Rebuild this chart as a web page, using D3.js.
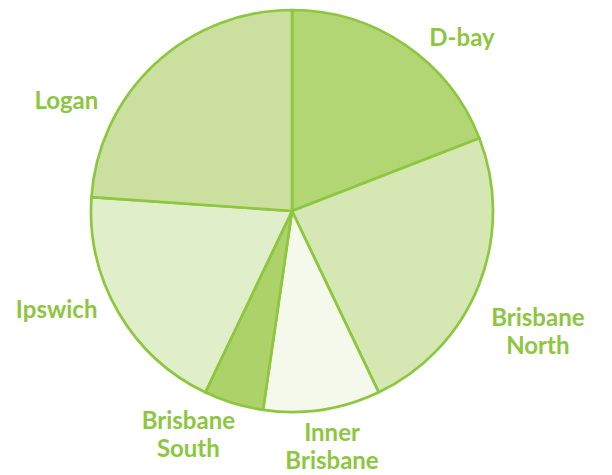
<!DOCTYPE html>
<html>
<head>
<meta charset="utf-8">
<script src="https://cdn.jsdelivr.net/npm/d3@7"></script>
<style>
	body { margin: 0; background: #fff; }
	svg { display: block; }
</style>
</head>
<body>
<div id="chart"></div>
<script>
// slice names, clockwise from 12 o'clock
var regions = ["D-bay", "Brisbane North", "Inner Brisbane", "Brisbane South", "Ipswich", "Logan"]

// share of each slice (percent)
var shares = [19.1, 23.8, 9.4, 4.8, 19.0, 23.9]

// fill of each slice
var fills = ["#b3d674", "#d5e7b2", "#f4f9eb", "#aed26a", "#e0eec9", "#cbe09e"]

// label lines for each slice
var labelLines = [["D-bay"], ["Brisbane", "North"], ["Inner", "Brisbane"], ["Brisbane", "South"], ["Ipswich"], ["Logan"]]

var width = 612
var height = 475
var cx = 292
var cy = 211
var radius = 201

var svg = d3.select("#chart")
	.append("svg")
	.attr("width", width)
	.attr("height", height)

var g = svg.append("g")
	.attr("transform", "translate(" + cx + "," + cy + ")")

var pie = d3.pie()
	.sort(null)
	.value(function(d) { return d })

var arcs = pie(shares)

var arc = d3.arc()
	.innerRadius(0)
	.outerRadius(radius)

g.selectAll("path.slice")
	.data(arcs)
	.enter()
	.append("path")
	.attr("class", "slice")
	.attr("d", arc)
	.attr("fill", function(d, i) { return fills[i] })
	.attr("stroke", "#8dc63f")
	.attr("stroke-width", 2.7)
	.attr("stroke-linejoin", "round")

// label placement: angle shift (deg) from slice middle and distance from centre
var labelNudge = [[10, 243], [4.6, 274], [-1, 239], [8, 246], [7.6, 255], [-21, 251]]

var lineHeight = 28

var labels = g.selectAll("text.label")
	.data(arcs)
	.enter()
	.append("text")
	.attr("class", "label")
	.attr("text-anchor", "middle")
	.style("font-family", "Lato, 'Open Sans', sans-serif")
	.style("font-weight", "bold")
	.style("font-size", "24px")
	.attr("fill", "#8dc63f")
	.attr("transform", function(d, i) {
		var a = (d.startAngle + d.endAngle) / 2 + labelNudge[i][0] * Math.PI / 180
		var r = labelNudge[i][1]
		var x = r * Math.sin(a)
		var y = -r * Math.cos(a)
		return "translate(" + x + "," + y + ")"
	})

labels.each(function(d, i) {
	var lines = labelLines[i]
	var t = d3.select(this)
	var off = -(lines.length - 1) * lineHeight / 2
	lines.forEach(function(line, k) {
		t.append("tspan")
			.attr("x", 0)
			.attr("y", off + k * lineHeight)
			.attr("dy", "0.35em")
			.text(line)
	})
})
</script>
</body>
</html>
